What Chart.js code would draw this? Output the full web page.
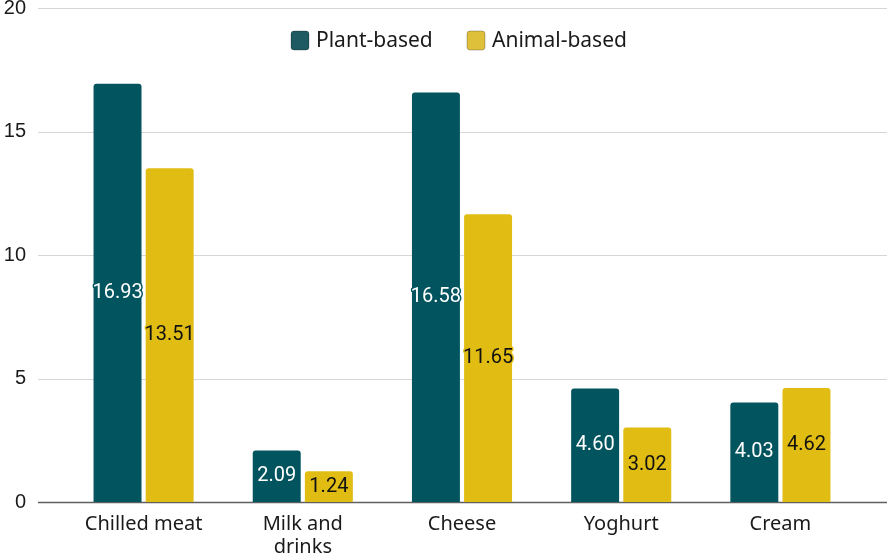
<!DOCTYPE html>
<html>
<head>
<meta charset="utf-8">
<script src="https://cdn.jsdelivr.net/npm/chart.js@4/dist/chart.umd.min.js"></script>
<style>
  html, body { margin: 0; padding: 0; background: #fff; }
  #wrap { width: 887px; height: 557px; }
</style>
</head>
<body>
<div id="wrap"><canvas id="chart" width="887" height="557"></canvas></div>
<script>
const categories = ["Chilled meat", ["Milk and", "drinks"], "Cheese", "Yoghurt", "Cream"];
const plantValues = [16.93, 2.09, 16.58, 4.60, 4.03];
const animalValues = [13.51, 1.24, 11.65, 3.02, 4.62];
const yTicks = [0, 5, 10, 15, 20];

const PLANT = "#02545e";
const ANIMAL = "#e1bd14";
const labelFont = "20px Roboto";
const tickFont = { family: "'Liberation Sans', Arial, sans-serif", size: 20, lineHeight: 0.8 };
const catFont = { family: "'Noto Sans', sans-serif", size: 20, lineHeight: 1.15 };

// grid lines run the full canvas width, past the plot area
const fullGrid = {
  id: "fullGrid",
  beforeDatasetsDraw(chart) {
    const { ctx, scales: { y } } = chart;
    ctx.save();
    yTicks.forEach(v => {
      const py = Math.round(y.getPixelForValue(v)) + 0.5;
      ctx.beginPath();
      ctx.moveTo(38, py);
      ctx.lineTo(chart.width, py);
      if (v === 0) {
        ctx.strokeStyle = "#5f5f5f";
        ctx.lineWidth = 1.6;
      } else {
        ctx.strokeStyle = "#d6d6d6";
        ctx.lineWidth = 1;
      }
      ctx.stroke();
    });
    ctx.restore();
  }
};

// value labels in the middle of each bar, with a halo in the bar colour
const barLabels = {
  id: "barLabels",
  afterDatasetsDraw(chart) {
    const { ctx } = chart;
    ctx.save();
    ctx.font = labelFont;
    ctx.textAlign = "center";
    ctx.textBaseline = "middle";
    ctx.lineJoin = "round";
    chart.data.datasets.forEach((ds, i) => {
      chart.getDatasetMeta(i).data.forEach((bar, j) => {
        const text = ds.data[j].toFixed(2);
        const cy = (bar.y + bar.base) / 2;
        ctx.lineWidth = 3;
        ctx.strokeStyle = ds.backgroundColor;
        ctx.strokeText(text, bar.x, cy);
        ctx.fillStyle = i === 0 ? "#ffffff" : "#111111";
        ctx.fillText(text, bar.x, cy);
      });
    });
    ctx.restore();
  }
};

// legend sits inside the plot, near the top
const innerLegend = {
  id: "innerLegend",
  afterDraw(chart) {
    const { ctx } = chart;
    const items = [
      { label: "Plant-based", color: "#1e5a61", x: 291 },
      { label: "Animal-based", color: "#dfc03a", x: 467 }
    ];
    ctx.save();
    ctx.font = "21px 'Noto Sans', sans-serif";
    ctx.textBaseline = "middle";
    items.forEach(item => {
      ctx.beginPath();
      ctx.roundRect(item.x, 31, 18, 19, 3);
      ctx.fillStyle = item.color;
      ctx.fill();
      ctx.strokeStyle = "rgba(0,0,0,0.25)";
      ctx.lineWidth = 1;
      ctx.stroke();
      ctx.fillStyle = "#1a1a1a";
      ctx.fillText(item.label, item.x + 25, 41);
    });
    ctx.restore();
  }
};

new Chart(document.getElementById("chart"), {
  type: "bar",
  data: {
    labels: categories,
    datasets: [
      {
        label: "Plant-based",
        data: plantValues,
        backgroundColor: PLANT,
        borderRadius: 3,
        borderSkipped: "bottom",
        barPercentage: 0.92,
        categoryPercentage: 0.655
      },
      {
        label: "Animal-based",
        data: animalValues,
        backgroundColor: ANIMAL,
        borderRadius: 3,
        borderSkipped: "bottom",
        barPercentage: 0.92,
        categoryPercentage: 0.655
      }
    ]
  },
  options: {
    responsive: false,
    animation: false,
    layout: { padding: { top: 0, right: 27, left: 0, bottom: 0 } },
    plugins: {
      legend: { display: false },
      tooltip: { enabled: false }
    },
    scales: {
      x: {
        grid: { display: false },
        border: { display: false },
        ticks: { color: "#1a1a1a", font: catFont, padding: 3, maxRotation: 0 },
        afterFit: scale => { scale.height = 55; }
      },
      y: {
        min: 0,
        max: 20,
        afterBuildTicks: scale => { scale.ticks = yTicks.map(v => ({ value: v })); },
        // tick marks are hidden; their length just pushes the labels left
        grid: { display: false, drawTicks: true, tickLength: 38, tickColor: "transparent" },
        border: { display: false },
        ticks: { color: "#1a1a1a", font: tickFont, padding: 0 },
        afterFit: scale => { scale.width = 64; }
      }
    }
  },
  plugins: [fullGrid, barLabels, innerLegend]
});
</script>
</body>
</html>
